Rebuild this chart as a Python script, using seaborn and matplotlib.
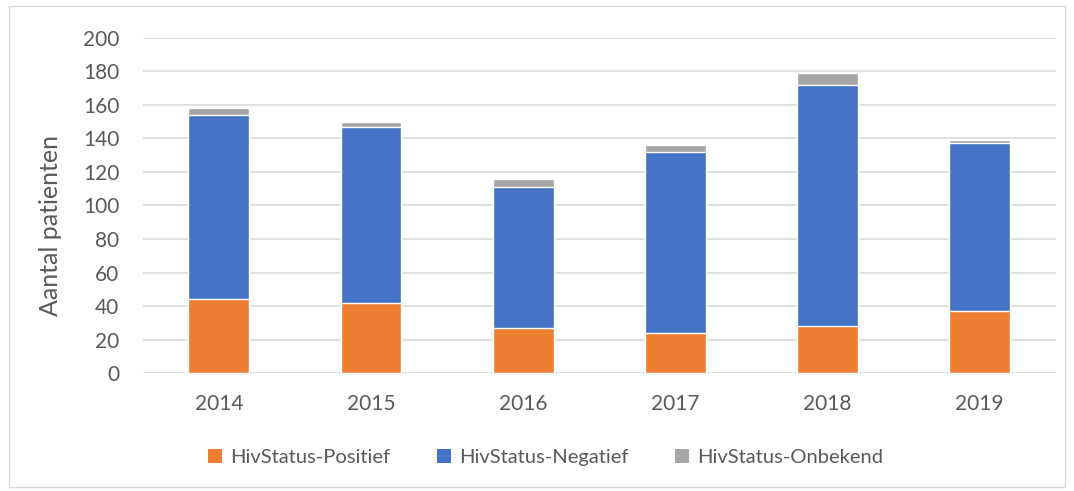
import pandas as pd
import matplotlib
matplotlib.use('Agg')
import matplotlib.pyplot as plt
import seaborn as sns
from matplotlib.patches import Rectangle, Patch

years = ['2014', '2015', '2016', '2017', '2018', '2019']
positief = [44, 42, 27, 24, 28, 37]
negatief = [110, 105, 84, 108, 144, 100]
onbekend = [4, 3, 5, 4, 7, 2]

series_names = ['HivStatus-Positief', 'HivStatus-Negatief', 'HivStatus-Onbekend']
colors = ['#ED7D31', '#4472C4', '#A5A5A5']

df = pd.DataFrame({'jaar': years, 'pos': positief, 'neg': negatief, 'onb': onbekend})
df['cum_neg'] = df['pos'] + df['neg']
df['cum_onb'] = df['cum_neg'] + df['onb']

sns.set_style('white')
plt.rcParams['font.family'] = ['Lato', 'DejaVu Sans']
text_col = '#595959'

fig = plt.figure(figsize=(10.74, 4.91), dpi=100)
ax = fig.add_axes([0.133, 0.24, 0.850, 0.683])

# stacked bars: draw cumulative totals back to front
sns.barplot(data=df, x='jaar', y='cum_onb', color=colors[2], width=0.4, saturation=1, ax=ax, zorder=2)
sns.barplot(data=df, x='jaar', y='cum_neg', color=colors[1], width=0.4, saturation=1, ax=ax, zorder=3)
sns.barplot(data=df, x='jaar', y='pos', color=colors[0], width=0.4, saturation=1, ax=ax, zorder=4)

ax.set_ylim(0, 200)
ax.set_yticks(range(0, 201, 20))
ax.set_xlim(-0.5, 5.5)
ax.yaxis.grid(True, color='#D9D9D9', linewidth=1.2, zorder=0)
ax.set_axisbelow(True)
for s in ax.spines.values():
    s.set_visible(False)
ax.tick_params(axis='both', length=0, labelsize=15, colors=text_col)
ax.tick_params(axis='x', pad=15)
ax.tick_params(axis='y', pad=17)
ax.set_xlabel('')
ax.set_ylabel('Aantal patienten', fontsize=18, color=text_col)
ax.yaxis.set_label_coords(-0.089, 0.44)

handles = [Patch(facecolor=c, edgecolor='none') for c in colors]
fig.legend(handles, series_names, loc='center', bbox_to_anchor=(0.508, 0.068), ncol=3,
           frameon=False, fontsize=14.5, labelcolor=text_col, handlelength=0.7,
           handleheight=0.7, columnspacing=2.3, handletextpad=0.4)

fig.patches.append(Rectangle((0.008, 0.008), 0.984, 0.98, transform=fig.transFigure,
                             fill=False, edgecolor='#D9D9D9', linewidth=1))

fig.savefig('out.png', dpi=100)
